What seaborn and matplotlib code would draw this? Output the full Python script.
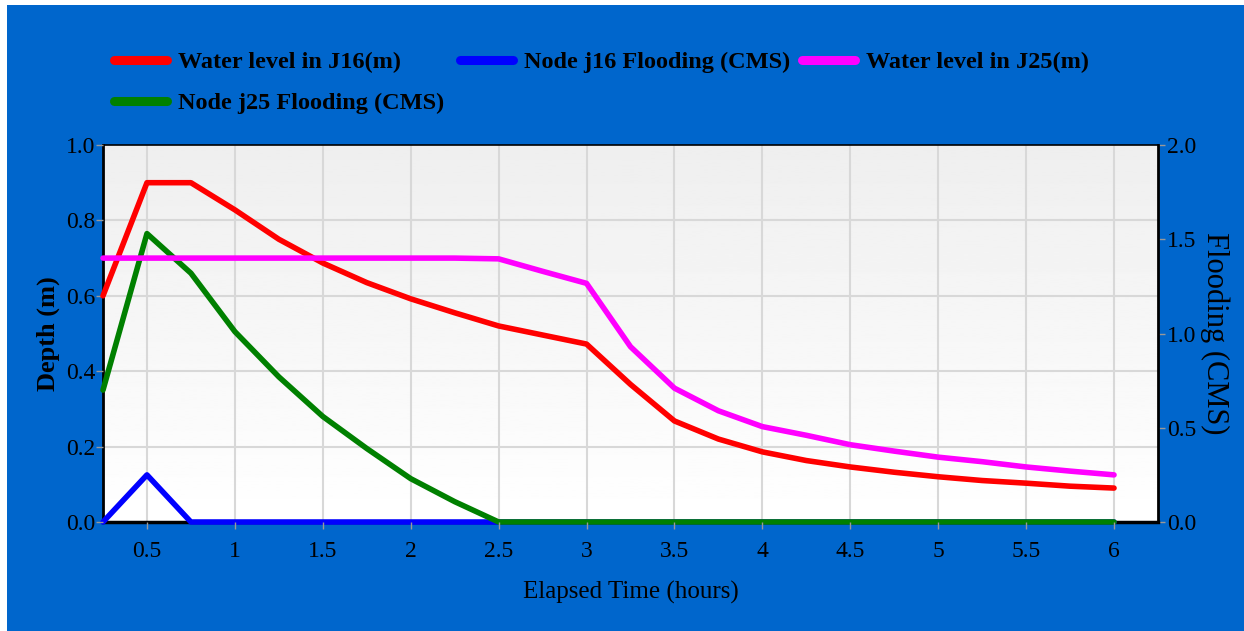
import numpy as np
import pandas as pd
import matplotlib
matplotlib.use("Agg")
import matplotlib.pyplot as plt
import seaborn as sns
from matplotlib.patches import Rectangle
from matplotlib.lines import Line2D

# ---- data ----
time_h = [0.25, 0.5, 0.75, 1.0, 1.25, 1.5, 1.75, 2.0, 2.25, 2.5, 2.75, 3.0,
          3.25, 3.5, 3.75, 4.0, 4.25, 4.5, 4.75, 5.0, 5.25, 5.5, 5.75, 6.0]
level_j16 = [0.60, 0.90, 0.90, 0.828, 0.750, 0.687, 0.635, 0.592, 0.555, 0.520, 0.496, 0.472,
             0.365, 0.268, 0.220, 0.186, 0.163, 0.146, 0.132, 0.120, 0.110, 0.103, 0.095, 0.090]
level_j25 = [0.70, 0.70, 0.70, 0.70, 0.70, 0.70, 0.70, 0.70, 0.70, 0.698, 0.665, 0.633,
             0.465, 0.355, 0.295, 0.253, 0.230, 0.205, 0.188, 0.172, 0.160, 0.146, 0.135, 0.125]
flood_j16 = [0.0, 0.25, 0.0, 0.0, 0.0, 0.0, 0.0, 0.0, 0.0, 0.0, 0.0, 0.0,
             0.0, 0.0, 0.0, 0.0, 0.0, 0.0, 0.0, 0.0, 0.0, 0.0, 0.0, 0.0]
flood_j25 = [0.70, 1.53, 1.32, 1.01, 0.77, 0.56, 0.39, 0.23, 0.108, 0.0, 0.0, 0.0,
             0.0, 0.0, 0.0, 0.0, 0.0, 0.0, 0.0, 0.0, 0.0, 0.0, 0.0, 0.0]
x_ticks = [0.5, 1, 1.5, 2, 2.5, 3, 3.5, 4, 4.5, 5, 5.5, 6]
x_ticklabels = ["0.5", "1", "1.5", "2", "2.5", "3", "3.5", "4", "4.5", "5", "5.5", "6"]
left_ticks = [0.0, 0.2, 0.4, 0.6, 0.8, 1.0]
right_ticks = [0.0, 0.5, 1.0, 1.5, 2.0]

labels = ["Water level in J16(m)", "Node j16 Flooding (CMS)",
          "Water level in J25(m)", "Node j25 Flooding (CMS)"]
colors = ["#FF0000", "#0000FF", "#FF00FF", "#008000"]

df = pd.DataFrame({"t": time_h, "l16": level_j16, "l25": level_j25,
                   "f16": flood_j16, "f25": flood_j25})

sns.set_theme(style="white")
plt.rcParams["font.family"] = ["Liberation Serif", "DejaVu Serif"]
plt.rcParams["text.color"] = "black"

BLUE_BG = "#0066CC"
W, H = 1244, 631
fig = plt.figure(figsize=(W / 100, H / 100), dpi=100, facecolor=BLUE_BG)
fig.patches.append(Rectangle((0, 1 - 5 / H), 1, 5 / H, transform=fig.transFigure,
                             facecolor="white", edgecolor="none", zorder=0))
fig.patches.append(Rectangle((0, 0), 7 / W, 1, transform=fig.transFigure,
                             facecolor="white", edgecolor="none", zorder=0))

ax = fig.add_axes([103 / W, (H - 522) / H, (1158 - 103) / W, (522 - 145) / H])
ax2 = ax.twinx()
ax.set_zorder(ax2.get_zorder() + 1)
ax.patch.set_visible(False)

grad = np.linspace(0.935, 1.0, 256).reshape(-1, 1)
ax2.imshow(grad, extent=[0.25, 6.25, 0, 2], aspect="auto", cmap="gray",
           vmin=0, vmax=1, origin="upper", zorder=0)
ax2.set_xlim(0.25, 6.25)
ax2.set_ylim(0, 2)

lw = 4
sns.lineplot(data=df, x="t", y="f16", ax=ax2, color=colors[1], lw=lw, zorder=3, clip_on=False)
sns.lineplot(data=df, x="t", y="f25", ax=ax2, color=colors[3], lw=lw, zorder=4, clip_on=False)
sns.lineplot(data=df, x="t", y="l16", ax=ax, color=colors[0], lw=lw, zorder=3, clip_on=False)
sns.lineplot(data=df, x="t", y="l25", ax=ax, color=colors[2], lw=lw, zorder=4, clip_on=False)

ax.set_xlim(0.25, 6.25)
ax.set_ylim(0, 1)
ax.set_xticks(x_ticks)
ax.set_xticklabels(x_ticklabels)
ax.set_yticks(left_ticks)
ax.set_yticklabels([f"{v:.1f}" for v in left_ticks])
ax2.set_yticks(right_ticks)
ax2.set_yticklabels([f"{v:.1f}" for v in right_ticks])

for xv in x_ticks:
    ax2.axvline(xv, color="#d8d8d8", lw=1.5, zorder=1)
for yv in [0.4, 0.8, 1.2, 1.6]:
    ax2.axhline(yv, color="#d8d8d8", lw=1.5, zorder=1)

fs_tick = 17
ax.tick_params(axis="x", labelsize=fs_tick, labelcolor="black", color="#999999",
               length=5, width=1, direction="out", bottom=True, pad=9)
ax.tick_params(axis="y", labelsize=fs_tick, labelcolor="black", color="#999999",
               length=5, width=1, direction="out", left=True, pad=0.5)
ax2.tick_params(axis="y", labelsize=fs_tick, labelcolor="black", color="#999999",
                length=5, width=1, direction="out", right=True, pad=1.5)
ax.grid(False)
ax2.grid(False)

ax.set_xlabel("Elapsed Time (hours)", fontsize=18, color="black", labelpad=13)
ax.set_ylabel("Depth (m)", fontsize=19, fontweight="bold", color="black", labelpad=4)
ax2.set_ylabel("Flooding (CMS)", fontsize=22, color="black", rotation=270, labelpad=24)

for s in ax.spines.values():
    s.set_visible(False)
for name, s in ax2.spines.items():
    s.set_visible(True)
    s.set_color("black")
    s.set_linewidth(1.2)
ax2.spines["bottom"].set_linewidth(2.5)
ax2.spines["left"].set_linewidth(2)
ax2.spines["right"].set_linewidth(2)

# legend: three columns at fixed positions, two rows
h = [Line2D([], [], color=c, lw=6.5, solid_capstyle="round") for c in colors]
prop = {"weight": "bold", "size": 17.5}
common = dict(loc="upper left", frameon=False, prop=prop, handlelength=2.2,
              handletextpad=0.45, labelspacing=0.8, borderaxespad=0, borderpad=0)
col_x = [114, 460, 802]
groups = [[0, 3], [1], [2]]
for cx, g in zip(col_x, groups):
    leg = fig.legend([h[i] for i in g], [labels[i] for i in g],
                     bbox_to_anchor=(cx / W, 1 - 51 / H), **common)
    for t in leg.get_texts():
        t.set_color("black")

fig.savefig("out.png", dpi=100, facecolor=BLUE_BG)
